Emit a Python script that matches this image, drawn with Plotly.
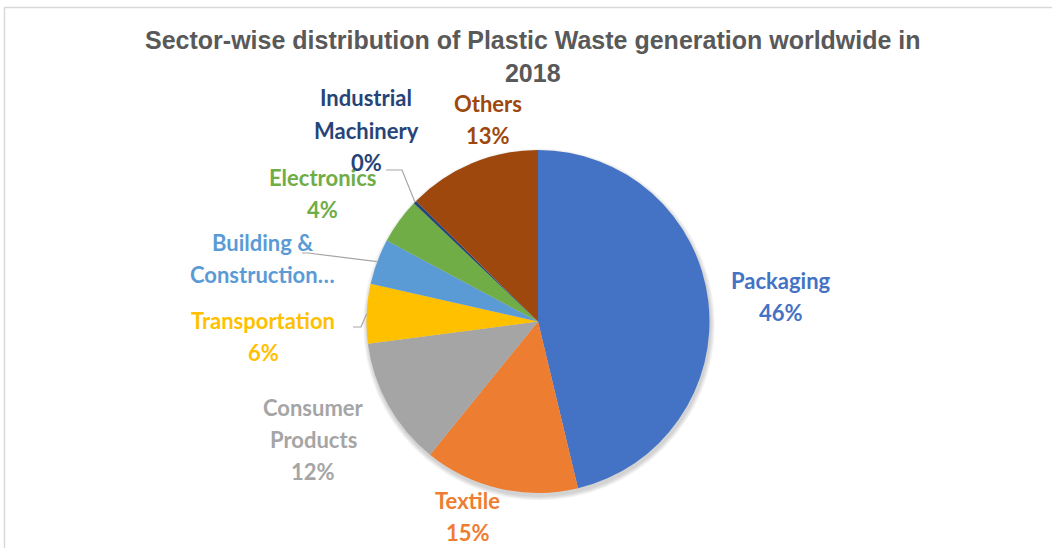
import math
import plotly.graph_objects as go

# ---------------- data ----------------
sectors = ["Packaging", "Textile", "Consumer Products", "Transportation",
           "Building & Construction", "Electronics", "Industrial Machinery", "Others"]
shares = [46.3, 14.6, 12.1, 5.6, 4.3, 4.3, 0.3, 12.6]
colors = ["#4472C4", "#ED7D31", "#A5A5A5", "#FFC000",
          "#5B9BD5", "#70AD47", "#264478", "#9E480E"]
label_lines = [["Packaging"], ["Textile"], ["Consumer", "Products"], ["Transportation"],
               ["Building &", "Construction…"], ["Electronics"], ["Industrial", "Machinery"], ["Others"]]
show_pct = [True, True, True, True, False, True, True, True]
title_text = "Sector-wise distribution of Plastic Waste generation worldwide in<br>2018"

# ---------------- layout constants (pixels) ----------------
W, H = 1052, 548
CX, CY, R = 538.0, 321.5, 171.5
LINE_GAP = 32
label_pos = [(781, 280), (468, 500), (313, 407), (263, 320),
             (262, 242), (322, 177), (366, 98), (488, 103)]
# leader lines: index -> list of knee points (pixels), ending on slice edge
leaders = {6: [(386, 170), (402, 170)],
           4: [(302, 253), (308, 253)],
           3: [(353, 327), (361, 327)]}

def px(x):
    return x / W

def py(y):
    return 1 - y / H

total = sum(shares)
fig = go.Figure(go.Pie(
    labels=sectors, values=shares, sort=False, direction="clockwise", rotation=0,
    marker=dict(colors=colors, line=dict(width=0)),
    textinfo="none", hoverinfo="label+percent", showlegend=False,
    domain=dict(x=[px(CX - R), px(CX + R)], y=[py(CY + R), py(CY - R)]),
))

annotations = []
# title
annotations.append(dict(text=f"<b>{title_text}</b>", x=px(533), y=py(57), xref="paper", yref="paper",
                        xanchor="center", yanchor="middle", showarrow=False, align="center",
                        font=dict(family="Liberation Sans, Arial", size=25, color="#595959")))

shapes = []
# border
shapes.append(dict(type="rect", xref="paper", yref="paper", x0=px(4.5), y0=py(7.5),
                   x1=px(W + 20), y1=py(H + 20), line=dict(color="#D9D9D9", width=1.5),
                   fillcolor="rgba(0,0,0,0)", layer="below"))
# soft shadow
for k in range(1, 6):
    r = R + k * 0.9
    shapes.append(dict(type="circle", xref="paper", yref="paper",
                       x0=px(CX + 1 - r), x1=px(CX + 1 + r), y0=py(CY + 3 + r), y1=py(CY + 3 - r),
                       line=dict(width=0), fillcolor="rgba(0,0,0,0.035)", layer="below"))

cum = 0.0
for i, (name, v) in enumerate(zip(sectors, shares)):
    mid = (cum + v / 2) / total * 2 * math.pi
    cum += v
    lines = list(label_lines[i])
    if show_pct[i]:
        lines.append(f"{round(v / total * 100)}%")
    lx, ly = label_pos[i]
    for j, t in enumerate(lines):
        annotations.append(dict(text=f"<b>{t}</b>", x=px(lx), y=py(ly + j * LINE_GAP),
                                xref="paper", yref="paper", xanchor="center", yanchor="middle",
                                showarrow=False,
                                font=dict(family="Lato, Open Sans", size=22, color=colors[i])))
    if i in leaders:
        ex = CX + R * math.sin(mid)
        ey = CY - R * math.cos(mid)
        pts = leaders[i] + [(ex, ey)]
        path = "M " + " L ".join(f"{px(a):.5f},{py(b):.5f}" for a, b in pts)
        shapes.append(dict(type="path", xref="paper", yref="paper", path=path,
                           line=dict(color="#A6A6A6", width=1.2)))

fig.update_layout(width=W, height=H, margin=dict(l=0, r=0, t=0, b=0),
                  paper_bgcolor="white", plot_bgcolor="white",
                  annotations=annotations, shapes=shapes)
fig.write_html("out.html")
